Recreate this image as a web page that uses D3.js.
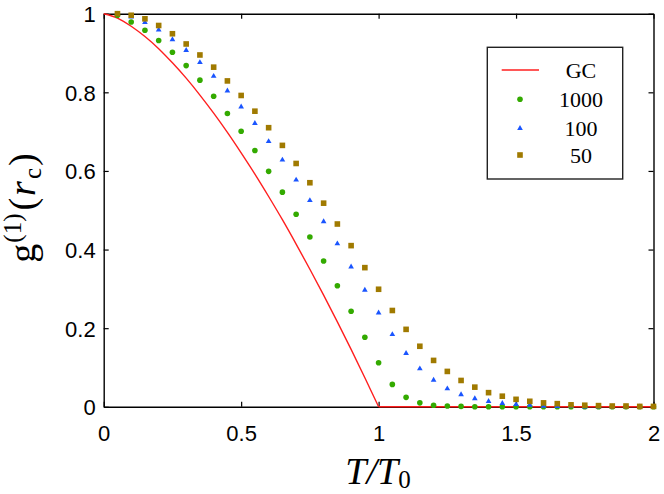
<!DOCTYPE html>
<html>
<head>
<meta charset="utf-8">
<script src="https://cdn.jsdelivr.net/npm/d3@7"></script>
<style>
html,body{margin:0;padding:0;background:#fff;}
svg{display:block;}
</style>
</head>
<body>
<svg id="chart" width="664" height="494"></svg>
<script>
// ---- data ----
const tGrid = [0.05,0.10,0.15,0.20,0.25,0.30,0.35,0.40,0.45,0.50,
               0.55,0.60,0.65,0.70,0.75,0.80,0.85,0.90,0.95,1.00,
               1.05,1.10,1.15,1.20,1.25,1.30,1.35,1.40,1.45,1.50,
               1.55,1.60,1.65,1.70,1.75,1.80,1.85,1.90,1.95,2.00];
const s1000 = [0.996,0.979,0.958,0.932,0.902,0.868,0.831,0.790,0.746,0.701,
               0.652,0.599,0.546,0.490,0.432,0.371,0.308,0.243,0.177,0.112,
               0.057,0.024,0.010,0.004,0.002,0.001,0.000,0.000,0.000,0.000,
               0.000,0.000,0.000,0.000,0.000,0.000,0.000,0.000,0.000,0.000];
const s100  = [0.999,0.992,0.978,0.959,0.934,0.907,0.876,0.841,0.804,0.763,
               0.721,0.675,0.628,0.577,0.525,0.471,0.415,0.356,0.297,0.239,
               0.184,0.136,0.097,0.068,0.046,0.031,0.021,0.014,0.009,0.006,
               0.004,0.002,0.001,0.001,0.000,0.000,0.000,0.000,0.000,0.000];
const s50   = [1.000,0.996,0.987,0.970,0.949,0.923,0.895,0.864,0.829,0.792,
               0.752,0.710,0.665,0.619,0.570,0.518,0.465,0.410,0.354,0.299,
               0.245,0.197,0.154,0.118,0.090,0.067,0.050,0.036,0.027,0.019,
               0.014,0.010,0.008,0.005,0.004,0.003,0.002,0.002,0.001,0.001];
// GC curve: rising part (T <= 1) and flat part (T >= 1)
const gcT   = [0,0.05,0.10,0.15,0.20,0.25,0.30,0.35,0.40,0.45,0.50,
               0.55,0.60,0.65,0.70,0.75,0.80,0.85,0.90,0.95,1.00];
const gcV   = [1,0.989,0.968,0.942,0.911,0.875,0.836,0.793,0.747,0.698,0.646,
               0.592,0.535,0.476,0.414,0.350,0.284,0.216,0.146,0.074,0];
const gcFlatT = [1.00,2.00];
const gcFlatV = [0,0];
const xTicks = [0,0.5,1,1.5,2];
const xTickLabels = ["0","0.5","1","1.5","2"];
const yTicks = [0,0.2,0.4,0.6,0.8,1];
const yTickLabels = ["0","0.2","0.4","0.6","0.8","1"];
const legendLabels = ["GC","1000","100","50"];

// ---- styles ----
const colGC = "#ff1f1f", col1000 = "#33aa00", col100 = "#1a55ff", col50 = "#a07a00";

const svg = d3.select("#chart");
const L = 103.7, R = 653.5, Tp = 13.7, B = 406.8;
const x = d3.scaleLinear().domain([0,2]).range([L,R]);
const y = d3.scaleLinear().domain([0,1]).range([B,Tp]);

const sansFont = "'Liberation Sans', Arial, Helvetica, sans-serif";
const serifFont = "'Liberation Serif', 'Times New Roman', serif";

// axes (inward ticks on all sides)
const tickLen = 5;
const axB = svg.append("g").attr("transform",`translate(0,${B})`)
  .call(d3.axisBottom(x).tickValues(xTicks).tickSizeInner(-tickLen).tickSizeOuter(0).tickFormat((d,i)=>xTickLabels[i]));
const axT = svg.append("g").attr("transform",`translate(0,${Tp})`)
  .call(d3.axisTop(x).tickValues(xTicks).tickSizeInner(-tickLen).tickSizeOuter(0).tickFormat(""));
const axL = svg.append("g").attr("transform",`translate(${L},0)`)
  .call(d3.axisLeft(y).tickValues(yTicks).tickSizeInner(-tickLen).tickSizeOuter(0).tickFormat((d,i)=>yTickLabels[i]));
const axR = svg.append("g").attr("transform",`translate(${R},0)`)
  .call(d3.axisRight(y).tickValues(yTicks).tickSizeInner(-tickLen).tickSizeOuter(0).tickFormat(""));
[axB,axT,axL,axR].forEach(a=>{
  a.selectAll(".domain").attr("stroke","#000").attr("stroke-width",1.4);
  a.selectAll(".tick line").attr("stroke","#000").attr("stroke-width",1.2);
});
axB.selectAll(".tick text").attr("font-family",sansFont).attr("font-size",22).attr("fill","#000")
  .attr("y",0).attr("dy",null).attr("transform","translate(0,34)");
axL.selectAll(".tick text").attr("font-family",sansFont).attr("font-size",22).attr("fill","#000")
  .attr("x",-8).attr("dy","0.36em");

// GC line
const curve = d3.line().x(d=>x(d[0])).y(d=>y(d[1])).curve(d3.curveNatural);
const flat = d3.line().x(d=>x(d[0])).y(d=>y(d[1]));
svg.append("path").datum(gcT.map((t,i)=>[t,gcV[i]]))
  .attr("d",curve).attr("fill","none").attr("stroke",colGC).attr("stroke-width",1.4);
svg.append("path").datum(gcFlatT.map((t,i)=>[t,gcFlatV[i]]))
  .attr("d",flat).attr("fill","none").attr("stroke",colGC).attr("stroke-width",1.4);

// markers
const sq = 5.6;
function drawCircle(g,cx,cy,c){ g.append("circle").attr("cx",cx).attr("cy",cy).attr("r",2.8).attr("fill",c); }
function drawTri(g,cx,cy,c){ g.append("path").attr("d",d3.symbol(d3.symbolTriangle,14)()).attr("transform",`translate(${cx},${cy})`).attr("fill",c); }
function drawSq(g,cx,cy,c){ g.append("rect").attr("x",cx-sq/2).attr("y",cy-sq/2).attr("width",sq).attr("height",sq).attr("fill",c); }

const gM = svg.append("g");
tGrid.forEach((t,i)=>drawCircle(gM,x(t),y(s1000[i]),col1000));
tGrid.forEach((t,i)=>drawTri(gM,x(t),y(s100[i]),col100));
tGrid.forEach((t,i)=>drawSq(gM,x(t),y(s50[i]),col50));

// legend
const lg = svg.append("g");
lg.append("rect").attr("x",487.3).attr("y",47.3).attr("width",135.4).attr("height",131.7)
  .attr("fill","#fff").attr("stroke","#222").attr("stroke-width",1.4);
const rowsY = [70,99.3,128.3,155];
lg.append("line").attr("x1",501.7).attr("x2",539).attr("y1",rowsY[0]).attr("y2",rowsY[0])
  .attr("stroke",colGC).attr("stroke-width",1.4);
drawCircle(lg,520,rowsY[1],col1000);
drawTri(lg,520,rowsY[2],col100);
drawSq(lg,520,rowsY[3],col50);
legendLabels.forEach((t,i)=>{
  lg.append("text").attr("x",581).attr("y",rowsY[i]).attr("dy","0.35em")
    .attr("text-anchor","middle").attr("font-family",serifFont).attr("font-size",22)
    .attr("fill","#000").text(t);
});

// x label T/T0
const xl = svg.append("text").attr("x",378).attr("y",484).attr("text-anchor","middle")
  .attr("font-family",serifFont).attr("font-size",38).attr("fill","#000");
xl.append("tspan").attr("font-style","italic").text("T/T");
xl.append("tspan").attr("font-size",25).attr("dy",4).text("0");

// y label g^(1)(r_c)
const yl = svg.append("text").attr("transform","translate(35,208) rotate(-90)")
  .attr("text-anchor","middle").attr("font-family",serifFont).attr("font-size",38).attr("fill","#000");
yl.append("tspan").text("g");
yl.append("tspan").attr("font-size",25).attr("dx",1).attr("dy",-14).text("(1)");
yl.append("tspan").attr("dx",3).attr("dy",14).text("(");
yl.append("tspan").attr("font-style","italic").attr("dx",2).text("r");
yl.append("tspan").attr("font-size",25).attr("dx",2).attr("dy",6).text("c");
yl.append("tspan").attr("dx",2).attr("dy",-6).text(")");
</script>
</body>
</html>
